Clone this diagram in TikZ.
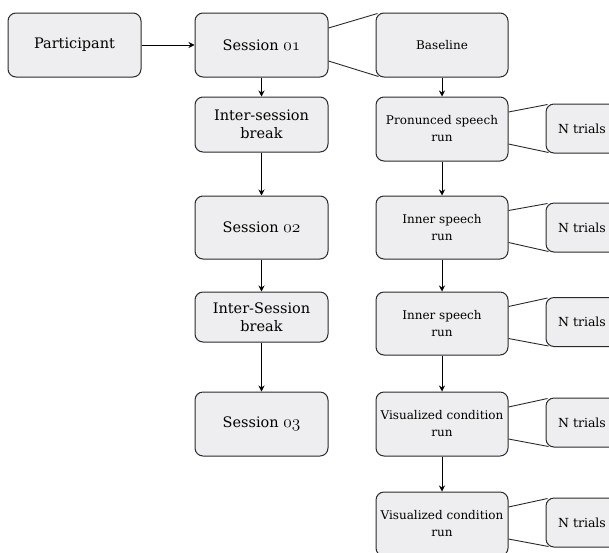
\documentclass[tikz,border=0pt]{standalone}
\usepackage{fontspec}
\setmainfont{DejaVu Serif}
\usetikzlibrary{arrows.meta}
\newcommand{\osn}[1]{{\fontsize{18}{18}\usefont{OML}{lmm}{m}{it}#1}}
\definecolor{boxfill}{HTML}{EEEEF0}
\definecolor{boxdraw}{HTML}{2A2A2A}
\tikzset{
  x=1pt,y=-1pt,
  bigbox/.style={draw=boxdraw,fill=boxfill,rounded corners=8pt,line width=1pt,
    minimum width=133pt,minimum height=64pt,align=center,inner sep=0pt,
    font=\fontsize{14.5}{18}\selectfont},
  smallbox/.style={bigbox,minimum width=132pt,font=\fontsize{12}{17}\selectfont},
  trialbox/.style={bigbox,minimum width=72pt,minimum height=49pt,font=\fontsize{12.5}{15}\selectfont},
  arr/.style={-{Stealth[length=6pt,width=6pt]},line width=0.9pt,black},
  fan/.style={line width=0.9pt,boxdraw}
}
\begin{document}
\begin{tikzpicture}
\useasboundingbox (0,0) rectangle (609,552);
% left column
\node[bigbox] (part) at (74.5,45) {Participant};
\node[bigbox] (s1) at (261.5,45) {Session \osn{01}};
\node[bigbox,minimum height=55pt] (isb1) at (261.5,124.5) {Inter-session\\break};
\node[bigbox,minimum height=63pt] (s2) at (261.5,227.5) {Session \osn{02}};
\node[bigbox,minimum height=50pt] (isb2) at (261.5,317) {Inter-Session\\break};
\node[bigbox] (s3) at (261.5,424) {Session \osn{03}};
% right column
\node[smallbox] (bl) at (442,45) {Baseline};
\node[smallbox] (pr) at (442,129) {Pronunced speech\\run};
\node[smallbox,minimum height=63pt] (in1) at (442,227.5) {Inner speech\\run};
\node[smallbox,minimum height=63pt] (in2) at (442,323.5) {Inner speech\\run};
\node[smallbox] (vi1) at (442,424) {Visualized condition\\run};
\node[smallbox] (vi2) at (442,524) {Visualized condition\\run};
% trials
\node[trialbox] (t1) at (582,128.5) {N trials};
\node[trialbox] (t2) at (582,227.5) {N trials};
\node[trialbox] (t3) at (582,322) {N trials};
\node[trialbox] (t4) at (582,422.5) {N trials};
\node[trialbox] (t5) at (582,522.5) {N trials};
% arrows
\draw[arr] (part) -- (s1);
\draw[arr] (s1) -- (isb1);
\draw[arr] (isb1) -- (s2);
\draw[arr] (s2) -- (isb2);
\draw[arr] (isb2) -- (s3);
\draw[arr] (bl) -- (pr);
\draw[arr] (pr) -- (in1);
\draw[arr] (in1) -- (in2);
\draw[arr] (in2) -- (vi1);
\draw[arr] (vi1) -- (vi2);
% fans
\draw[fan] ([yshift=17pt]s1.east) -- ([shift={(2pt,-1pt)}]bl.north west);
\draw[fan] ([yshift=-16pt]s1.east) -- ([shift={(3pt,1pt)}]bl.south west);
\foreach \s/\t in {pr/t1,in1/t2,in2/t3,vi1/t4,vi2/t5}{
  \draw[fan] ([yshift=17pt]\s.east) -- ([shift={(2pt,-1pt)}]\t.north west);
  \draw[fan] ([yshift=-15pt]\s.east) -- ([shift={(3pt,1pt)}]\t.south west);
}
\end{tikzpicture}
\end{document}
